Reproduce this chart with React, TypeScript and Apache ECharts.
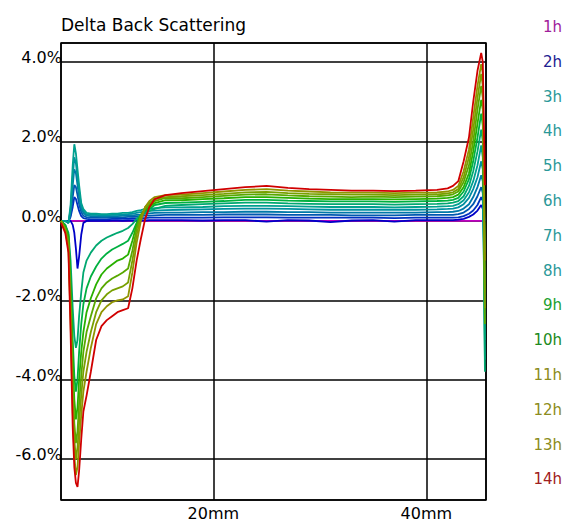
import React, { useEffect, useRef } from "react";
import * as echarts from "echarts";

// Position along the sample (mm)
const xs = [
  5.7, 6.1, 6.4, 6.6, 6.8, 6.95, 7.1, 7.25, 7.4, 7.6, 7.8, 8.1, 8.5, 9.0, 9.5, 10.0, 10.5, 11.0, 11.5, 12.0,
  12.4, 12.8, 13.2, 13.6, 14.0, 14.5, 15.5,
  17, 19, 21, 23, 25, 27, 29, 31, 33, 35, 37, 39, 41,
  42, 42.5, 43, 43.5, 44, 44.4, 44.8, 45.15, 45.3, 45.5,
];

// Delta back scattering (%) per scan time
const h1 = [
  0, 0, 0, 0, 0, 0, 0, 0, 0, 0, 0, 0, 0, 0, 0, 0, 0, 0, 0, 0,
  0, 0, 0, 0, 0, 0, 0,
  0, 0, 0, 0, 0, 0, 0, 0, 0, 0, 0, 0, 0,
  0, 0, 0, 0, 0, 0, 0, 0, 0, 0,
];
const h2 = [
  0, 0, 0, 0, -0.1, -0.3, -0.7, -1.2, -0.9, -0.35, -0.05, 0, 0.01, 0, 0.01, 0, 0.01, 0.01, 0, 0.01,
  0.01, 0.01, 0.02, 0.01, 0.02, 0.02, 0.02,
  0.02, 0.01, 0.02, 0.02, -0.02, 0.02, 0.01, -0.03, 0.01, 0.02, -0.02, 0.02, 0.02,
  0.02, 0.02, 0.03, 0.05, 0.1, 0.16, 0.26, 0.4, 0.3, 0,
];
const h3 = [
  0, 0, -0.02, 0.1, 0.35, 0.6, 0.55, 0.4, 0.25, 0.12, 0.07, 0.05, 0.04, 0.04, 0.04, 0.04, 0.05, 0.05, 0.05, 0.05,
  0.06, 0.06, 0.07, 0.07, 0.08, 0.08, 0.08,
  0.08, 0.08, 0.09, 0.09, 0.09, 0.08, 0.08, 0.08, 0.08, 0.08, 0.07, 0.08, 0.08,
  0.08, 0.08, 0.09, 0.12, 0.18, 0.26, 0.4, 0.6, 0.5, -0.8,
];
const h4 = [
  0, 0, -0.03, 0.15, 0.6, 0.9, 0.85, 0.65, 0.42, 0.22, 0.13, 0.09, 0.08, 0.08, 0.08, 0.08, 0.08, 0.09, 0.09, 0.1,
  0.1, 0.11, 0.12, 0.13, 0.13, 0.14, 0.15,
  0.15, 0.15, 0.16, 0.16, 0.16, 0.15, 0.15, 0.15, 0.14, 0.14, 0.14, 0.15, 0.15,
  0.15, 0.15, 0.17, 0.21, 0.3, 0.42, 0.62, 0.85, 0.7, -1.5,
];
const h5 = [
  0, 0, -0.05, 0.25, 0.9, 1.3, 1.2, 0.9, 0.6, 0.3, 0.2, 0.13, 0.12, 0.12, 0.11, 0.11, 0.12, 0.12, 0.13, 0.13,
  0.14, 0.15, 0.16, 0.18, 0.19, 0.2, 0.21,
  0.21, 0.22, 0.22, 0.23, 0.23, 0.22, 0.22, 0.21, 0.21, 0.21, 0.21, 0.21, 0.22,
  0.22, 0.23, 0.25, 0.31, 0.42, 0.6, 0.85, 1.15, 1.0, -2.0,
];
const h6 = [
  0, 0, -0.05, 0.3, 1.1, 1.6, 1.45, 1.1, 0.75, 0.38, 0.25, 0.16, 0.15, 0.15, 0.14, 0.14, 0.15, 0.15, 0.16, 0.17,
  0.18, 0.2, 0.22, 0.24, 0.25, 0.26, 0.27,
  0.28, 0.29, 0.3, 0.31, 0.31, 0.3, 0.29, 0.28, 0.28, 0.28, 0.28, 0.28, 0.29,
  0.3, 0.31, 0.34, 0.42, 0.58, 0.8, 1.1, 1.5, 1.3, -3.5,
];
const h7 = [
  0, 0, -0.05, 0.4, 1.4, 1.93, 1.7, 1.3, 0.9, 0.45, 0.3, 0.2, 0.18, 0.18, 0.17, 0.17, 0.18, 0.18, 0.2, 0.2,
  0.22, 0.25, 0.27, 0.3, 0.3, 0.32, 0.34,
  0.34, 0.35, 0.37, 0.38, 0.38, 0.37, 0.36, 0.35, 0.35, 0.35, 0.34, 0.35, 0.36,
  0.37, 0.38, 0.42, 0.52, 0.72, 1.0, 1.4, 1.9, 1.6, -3.0,
];
const h8 = [
  0, -0.1, -0.3, -1.0, -2.2, -2.9, -3.2, -3.0, -2.4, -1.8, -1.3, -1.0, -0.8, -0.62, -0.5, -0.42, -0.36, -0.3, -0.25, -0.18,
  -0.08, 0.05, 0.15, 0.2, 0.25, 0.3, 0.38,
  0.4, 0.42, 0.44, 0.46, 0.46, 0.44, 0.43, 0.42, 0.42, 0.42, 0.41, 0.42, 0.43,
  0.44, 0.46, 0.5, 0.62, 0.88, 1.25, 1.75, 2.3, 2.0, -3.8,
];
const h9 = [
  0, -0.1, -0.35, -1.4, -3.0, -3.9, -4.3, -4.0, -3.3, -2.6, -2.1, -1.7, -1.4, -1.15, -0.95, -0.82, -0.72, -0.65, -0.58, -0.5,
  -0.3, -0.05, 0.15, 0.25, 0.3, 0.4, 0.45,
  0.46, 0.48, 0.5, 0.53, 0.53, 0.51, 0.5, 0.49, 0.49, 0.49, 0.48, 0.49, 0.5,
  0.51, 0.53, 0.58, 0.74, 1.05, 1.5, 2.1, 2.7, 2.4, -0.75,
];
const h10 = [
  0, -0.15, -0.4, -1.7, -3.5, -4.5, -5.0, -4.7, -4.0, -3.3, -2.8, -2.3, -1.95, -1.6, -1.35, -1.2, -1.1, -1.0, -0.95, -0.85,
  -0.5, -0.1, 0.15, 0.28, 0.35, 0.45, 0.52,
  0.52, 0.55, 0.57, 0.6, 0.6, 0.58, 0.56, 0.55, 0.55, 0.55, 0.54, 0.55, 0.56,
  0.58, 0.6, 0.66, 0.85, 1.2, 1.75, 2.45, 3.05, 2.8, -1.8,
];
const h11 = [
  0, -0.2, -0.5, -2.0, -4.0, -5.1, -5.6, -5.3, -4.6, -3.9, -3.3, -2.8, -2.4, -1.95, -1.7, -1.55, -1.45, -1.38, -1.3, -1.2,
  -0.75, -0.2, 0.15, 0.3, 0.4, 0.5, 0.58,
  0.57, 0.6, 0.63, 0.66, 0.67, 0.64, 0.62, 0.61, 0.6, 0.61, 0.6, 0.61, 0.62,
  0.64, 0.67, 0.74, 0.98, 1.4, 2.0, 2.8, 3.4, 3.1, -2.6,
];
const h12 = [
  0, -0.2, -0.6, -2.2, -4.4, -5.5, -6.0, -5.7, -5.1, -4.4, -3.8, -3.3, -2.8, -2.3, -2.0, -1.85, -1.75, -1.7, -1.65, -1.55,
  -1.0, -0.35, 0.1, 0.35, 0.45, 0.55, 0.6,
  0.62, 0.65, 0.68, 0.72, 0.73, 0.7, 0.68, 0.67, 0.66, 0.66, 0.65, 0.66, 0.67,
  0.69, 0.72, 0.8, 1.1, 1.6, 2.3, 3.1, 3.7, 3.4, -2.2,
];
const h13 = [
  0, -0.25, -0.7, -2.5, -4.8, -5.9, -6.4, -6.2, -5.6, -4.9, -4.3, -3.8, -3.2, -2.6, -2.3, -2.15, -2.05, -2.0, -1.98, -1.9,
  -1.3, -0.55, 0.0, 0.35, 0.5, 0.6, 0.65,
  0.66, 0.7, 0.74, 0.78, 0.8, 0.76, 0.74, 0.72, 0.71, 0.71, 0.7, 0.71, 0.72,
  0.74, 0.78, 0.88, 1.25, 1.8, 2.6, 3.4, 3.95, 3.7, -1.0,
];
const h14 = [
  -0.05, -0.3, -0.8, -2.8, -5.2, -6.2, -6.6, -6.7, -6.3, -5.5, -4.8, -4.4, -3.8, -3.0, -2.65, -2.5, -2.4, -2.3, -2.25, -2.2,
  -1.7, -1.0, -0.45, 0.05, 0.35, 0.55, 0.65,
  0.7, 0.75, 0.8, 0.85, 0.88, 0.83, 0.8, 0.78, 0.76, 0.76, 0.75, 0.76, 0.78,
  0.82, 0.88, 1.0, 1.5, 2.1, 3.0, 3.78, 4.23, 4.0, 0.9,
];

const names = ["1h", "2h", "3h", "4h", "5h", "6h", "7h", "8h", "9h", "10h", "11h", "12h", "13h", "14h"];
const values = [h1, h2, h3, h4, h5, h6, h7, h8, h9, h10, h11, h12, h13, h14];

const lineColors = [
  "#c000c0", "#0000c8", "#0030c0", "#0058b0", "#0078a8", "#0090a0", "#00a090",
  "#00a870", "#00b040", "#28b000", "#58a800", "#78a000", "#909400", "#d00000",
];
const legendColors = [
  "#a0209a", "#202090", "#2a9898", "#2a9898", "#2a9898", "#2a9898", "#2a9898",
  "#2a9898", "#20a030", "#208a20", "#8c8c20", "#8c8c20", "#8c8c20", "#a02020",
];

const FONT = "DejaVu Sans";

export default function App() {
  const ref = useRef<HTMLDivElement>(null);
  useEffect(() => {
    if (!ref.current) return;
    const chart = echarts.init(ref.current, null, { renderer: "svg" });
    chart.setOption({
      animation: false,
      backgroundColor: "#ffffff",
      textStyle: { fontFamily: FONT },
      title: {
        text: "Delta Back Scattering",
        left: 61,
        top: 16,
        padding: 0,
        textStyle: { fontFamily: FONT, fontSize: 17, fontWeight: "normal", color: "#000" },
      },
      legend: {
        orient: "vertical",
        right: 8,
        top: 19,
        padding: 0,
        icon: "none",
        itemWidth: 0,
        itemHeight: 16,
        itemGap: 18.8,
        align: "right",
        selectedMode: false,
        textStyle: { fontFamily: FONT, fontSize: 15, lineHeight: 16 },
        data: names.map((n, i) => ({ name: n, textStyle: { color: legendColors[i] } })),
      },
      grid: {
        left: 61,
        right: 89,
        top: 43,
        bottom: 22,
        show: true,
        borderColor: "#000",
        borderWidth: 1.5,
        backgroundColor: "#fff",
      },
      xAxis: {
        type: "value",
        min: 5.7,
        max: 45.6,
        splitNumber: 2,
        axisLine: { show: false },
        axisTick: { show: false },
        splitLine: { show: true, lineStyle: { color: "#000", width: 1.5 } },
        axisLabel: {
          showMinLabel: false,
          showMaxLabel: false,
          margin: 5,
          color: "#000",
          fontFamily: FONT,
          fontSize: 16,
          lineHeight: 16,
          formatter: (v: number) => (Math.abs(v % 20) < 1e-6 ? `${v}mm` : ""),
        },
      },
      yAxis: {
        type: "value",
        min: -7.03,
        max: 4.48,
        splitNumber: 5,
        axisLine: { show: false },
        axisTick: { show: false },
        splitLine: { show: true, lineStyle: { color: "#000", width: 1.5 } },
        axisLabel: {
          showMinLabel: false,
          showMaxLabel: false,
          margin: -1,
          color: "#000",
          fontFamily: FONT,
          fontSize: 16,
          lineHeight: 9,
          verticalAlign: "bottom",
          formatter: (v: number) => (Math.abs(v % 2) < 1e-6 ? `${v.toFixed(1)}%` : ""),
        },
      },
      series: values.map((vals, i) => ({
        type: "line",
        name: names[i],
        data: xs.map((x, j) => [x, vals[j]]),
        showSymbol: false,
        symbol: "none",
        clip: true,
        lineStyle: { width: 1.8, color: lineColors[i] },
        itemStyle: { color: lineColors[i] },
        emphasis: { disabled: true },
      })),
    });
    return () => chart.dispose();
  }, []);
  return (
    <div
      ref={ref}
      style={{ position: "fixed", left: 0, top: 0, width: 575, height: 522, background: "#fff" }}
    />
  );
}
